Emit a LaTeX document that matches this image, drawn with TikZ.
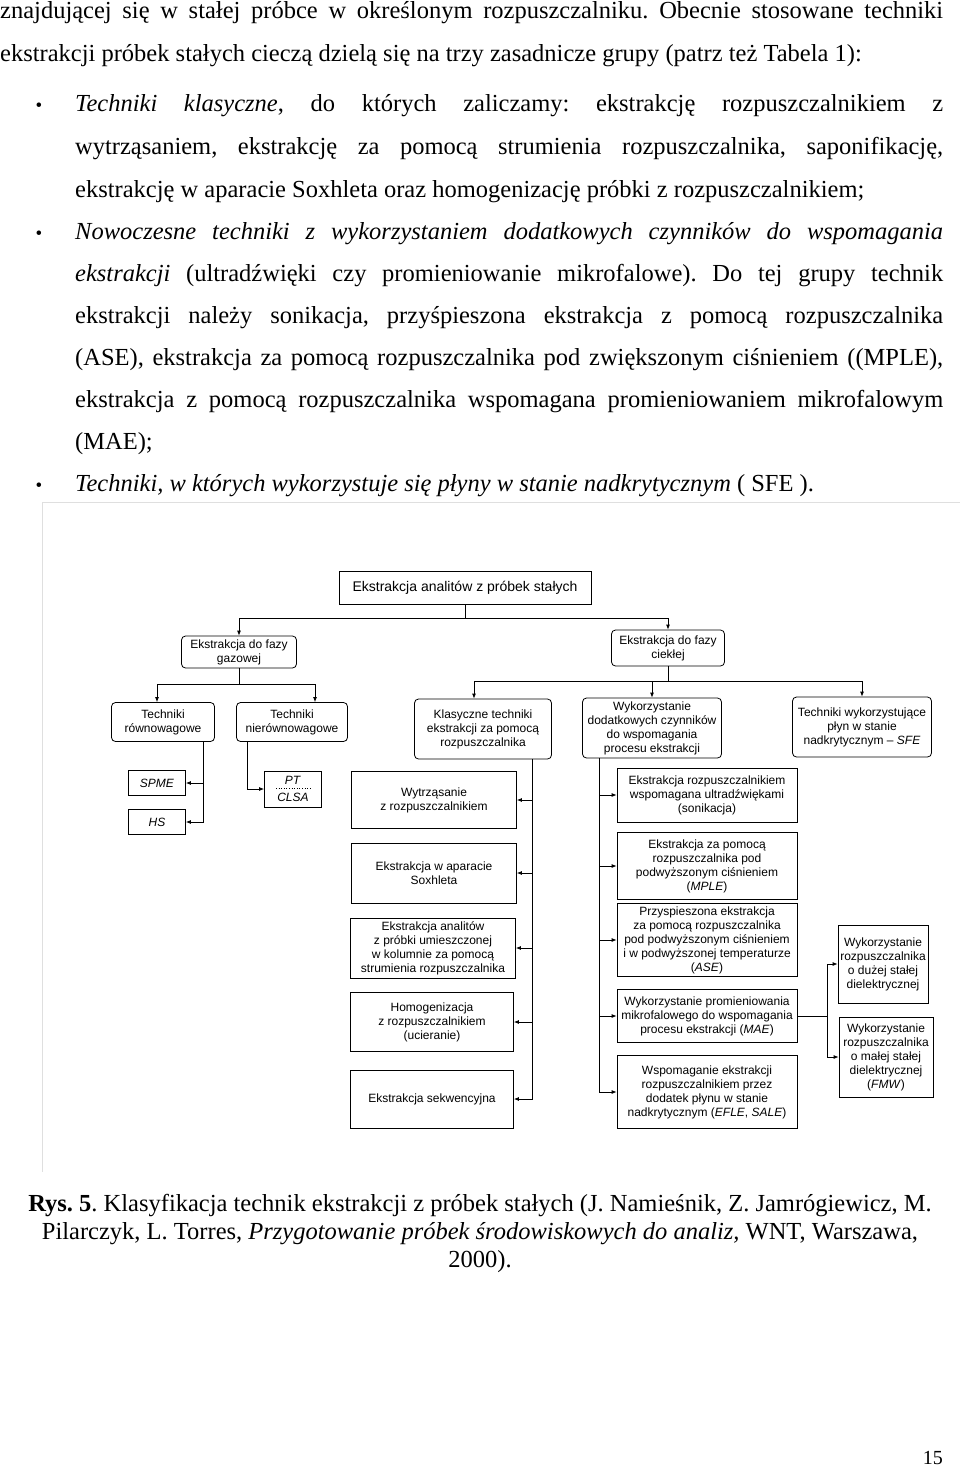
\documentclass[tikz,border=0pt]{standalone}
\usepackage{fontspec}
\setmainfont{Liberation Serif}
\newfontfamily\diagfont{Liberation Sans}
\usetikzlibrary{arrows.meta}
\newcommand{\jline}[2]{\makebox[#1][s]{#2}}
\frenchspacing

\begin{document}
\begin{tikzpicture}[x=1pt, y=-1pt,
  body/.style={anchor=base west, inner sep=0pt, font=\fontsize{24.5}{29}\selectfont},
  captext/.style={anchor=base, inner sep=0pt, font=\fontsize{24.5}{29}\selectfont},
  bul/.style={anchor=base, inner sep=0pt, font=\fontsize{19}{19}\selectfont},
  box/.style={draw, line width=0.8pt, align=center, inner sep=1pt, font=\diagfont\fontsize{12}{14}\selectfont},
  rbox/.style={box, rounded corners=4pt},
  arrow/.style={-{Latex[length=5pt,width=4pt]}, line width=0.8pt}
]
  \useasboundingbox[fill=white] (0,0) rectangle (960,1466);

  % Text above the figure
  \node[body] (l1) at (0,19) {\jline{943pt}{znajdującej się w stałej próbce w określonym rozpuszczalniku. Obecnie stosowane techniki}};
  \node[body] (l2) at (0,62) {ekstrakcji próbek stałych cieczą dzielą się na trzy zasadnicze grupy (patrz też Tabela 1):};

  \node[bul] (b1) at (39,112) {\textbullet};
  \node[body] (a1) at (75,112) {\jline{868pt}{\textit{Techniki klasyczne}, do których zaliczamy: ekstrakcję rozpuszczalnikiem z}};
  \node[body] (a2) at (75,155) {\jline{868pt}{wytrząsaniem, ekstrakcję za pomocą strumienia rozpuszczalnika, saponifikację,}};
  \node[body] (a3) at (75,197) {ekstrakcję w aparacie Soxhleta oraz homogenizację próbki z rozpuszczalnikiem;};

  \node[bul] (b2) at (39,239) {\textbullet};
  \node[body] (c1) at (75,239) {\jline{868pt}{\textit{Nowoczesne techniki z wykorzystaniem dodatkowych czynników do wspomagania}}};
  \node[body] (c2) at (75,281) {\jline{868pt}{\textit{ekstrakcji} (ultradźwięki czy promieniowanie mikrofalowe). Do tej grupy technik}};
  \node[body] (c3) at (75,323) {\jline{868pt}{ekstrakcji należy sonikacja, przyśpieszona ekstrakcja z pomocą rozpuszczalnika}};
  \node[body] (c4) at (75,365) {\jline{868pt}{(ASE), ekstrakcja za pomocą rozpuszczalnika pod zwiększonym ciśnieniem ((MPLE),}};
  \node[body] (c5) at (75,407) {\jline{868pt}{ekstrakcja z pomocą rozpuszczalnika wspomagana promieniowaniem mikrofalowym}};
  \node[body] (c6) at (75,449) {(MAE);};

  \node[bul] (b3) at (39,491) {\textbullet};
  \node[body] (d1) at (75,491) {\textit{Techniki, w których wykorzystuje się płyny w stanie nadkrytycznym} ( SFE ).};

  % Scan frame
  \draw[gray!25, line width=0.6pt] (960,502) -- (42,502) -- (42,1172);

  % Top levels
  \node[box, minimum width=252pt, minimum height=33pt, font=\diagfont\fontsize{14}{16}\selectfont] (title) at (465,588) {Ekstrakcja analitów z próbek stałych};
  \node[rbox, minimum width=115pt, minimum height=32pt] (gaz) at (239,652) {Ekstrakcja do fazy\\gazowej};
  \node[rbox, minimum width=113pt, minimum height=36pt] (ciek) at (668,648) {Ekstrakcja do fazy\\ciekłej};

  % Gas phase
  \node[rbox, minimum width=103pt, minimum height=39pt] (rown) at (163,722) {Techniki\\równowagowe};
  \node[rbox, minimum width=111pt, minimum height=39pt] (nier) at (292,722) {Techniki\\nierównowagowe};
  \node[box, minimum width=57pt, minimum height=25pt] (spme) at (157,783) {\textit{SPME}};
  \node[box, minimum width=57pt, minimum height=25pt] (hs) at (157,822) {\textit{HS}};
  \node[box, minimum width=57pt, minimum height=36pt] (pt) at (293,789) {\textit{PT}\\[3pt]\textit{CLSA}};
  \draw[dotted, line width=0.6pt] ([xshift=-17pt,yshift=1pt]pt.center) -- ([xshift=17pt,yshift=1pt]pt.center);

  % Liquid phase
  \node[rbox, minimum width=137pt, minimum height=60pt] (klas) at (483,729) {Klasyczne techniki\\ekstrakcji za pomocą\\rozpuszczalnika};
  \node[rbox, minimum width=139pt, minimum height=60pt] (wspom) at (652,728) {Wykorzystanie\\dodatkowych czynników\\do wspomagania\\procesu ekstrakcji};
  \node[rbox, minimum width=139pt, minimum height=60pt] (sfe) at (862,727) {Techniki wykorzystujące\\płyn w stanie\\nadkrytycznym – \textit{SFE}};

  % Classic techniques
  \node[box, minimum width=165pt, minimum height=57pt] (wytrz) at (434,800) {Wytrząsanie\\z rozpuszczalnikiem};
  \node[box, minimum width=165pt, minimum height=60pt] (soxh) at (434,873) {Ekstrakcja w aparacie\\Soxhleta};
  \node[box, minimum width=165pt, minimum height=60pt] (anal) at (433,948) {Ekstrakcja analitów\\z próbki umieszczonej\\w kolumnie za pomocą\\strumienia rozpuszczalnika};
  \node[box, minimum width=163pt, minimum height=59pt] (homog) at (432,1022) {Homogenizacja\\z rozpuszczalnikiem\\(ucieranie)};
  \node[box, minimum width=163pt, minimum height=58pt] (sekw) at (432,1099) {Ekstrakcja sekwencyjna};

  % Assisted techniques
  \node[box, minimum width=180pt, minimum height=54pt] (sonik) at (707,795) {Ekstrakcja rozpuszczalnikiem\\wspomagana ultradźwiękami\\(sonikacja)};
  \node[box, minimum width=180pt, minimum height=67pt] (mple) at (707,866) {Ekstrakcja za pomocą\\rozpuszczalnika pod\\podwyższonym ciśnieniem\\(\textit{MPLE})};
  \node[box, minimum width=180pt, minimum height=73pt] (ase) at (707,940) {Przyspieszona ekstrakcja\\za pomocą rozpuszczalnika\\pod podwyższonym ciśnieniem\\i w podwyższonej temperaturze\\(\textit{ASE})};
  \node[box, minimum width=180pt, minimum height=53pt] (mae) at (707,1016) {Wykorzystanie promieniowania\\mikrofalowego do wspomagania\\procesu ekstrakcji (\textit{MAE})};
  \node[box, minimum width=180pt, minimum height=73pt] (efle) at (707,1092) {Wspomaganie ekstrakcji\\rozpuszczalnikiem przez\\dodatek płynu w stanie\\nadkrytycznym (\textit{EFLE}, \textit{SALE})};
  \node[box, minimum width=90pt, minimum height=78pt] (duza) at (883,964) {Wykorzystanie\\rozpuszczalnika\\o dużej stałej\\dielektrycznej};
  \node[box, minimum width=94pt, minimum height=80pt] (mala) at (886,1057) {Wykorzystanie\\rozpuszczalnika\\o małej stałej\\dielektrycznej\\(\textit{FMW})};

  % Connectors
  \draw[arrow] (title.south) -- ++(0,13) -| (gaz.north);
  \draw[arrow] (title.south) -- ++(0,13) -| (ciek.north);
  \draw[arrow] (gaz.south) -- ++(0,16) -| ([xshift=-6pt]rown.north);
  \draw[arrow] (gaz.south) -- ++(0,16) -| ([xshift=23pt]nier.north);
  \draw[arrow] ([xshift=40pt]rown.south) |- (spme.east);
  \draw[arrow] ([xshift=40pt]rown.south) |- (hs.east);
  \draw[arrow] ([xshift=-45pt]nier.south) |- (pt.west);
  \draw[arrow] (ciek.south) -- ++(0,15) -| ([xshift=-9pt]klas.north);
  \draw[arrow] (ciek.south) -- ++(0,15) -| (wspom.north);
  \draw[arrow] (ciek.south) -- ++(0,15) -| (sfe.north);
  \foreach \n in {wytrz,soxh,anal,homog,sekw}
    \draw[arrow] ([xshift=49pt]klas.south) |- (\n.east);
  \foreach \n in {sonik,mple,ase,mae,efle}
    \draw[arrow] ([xshift=-53pt]wspom.south) |- (\n.west);
  \draw[arrow] (mae.east) -- ++(30,0) |- (duza.west);
  \draw[arrow] (mae.east) -- ++(30,0) |- (mala.west);

  % Caption
  \node[captext] (cap1) at (480,1211) {\textbf{Rys. 5}. Klasyfikacja technik ekstrakcji z próbek stałych (J. Namieśnik, Z. Jamrógiewicz, M.};
  \node[captext] (cap2) at (480,1239) {Pilarczyk, L. Torres, \textit{Przygotowanie próbek środowiskowych do analiz,} WNT, Warszawa,};
  \node[captext] (cap3) at (480,1267) {2000).};

  \node[anchor=base east, inner sep=0pt, font=\fontsize{20}{24}\selectfont] (page) at (943,1464) {15};
\end{tikzpicture}
\end{document}
